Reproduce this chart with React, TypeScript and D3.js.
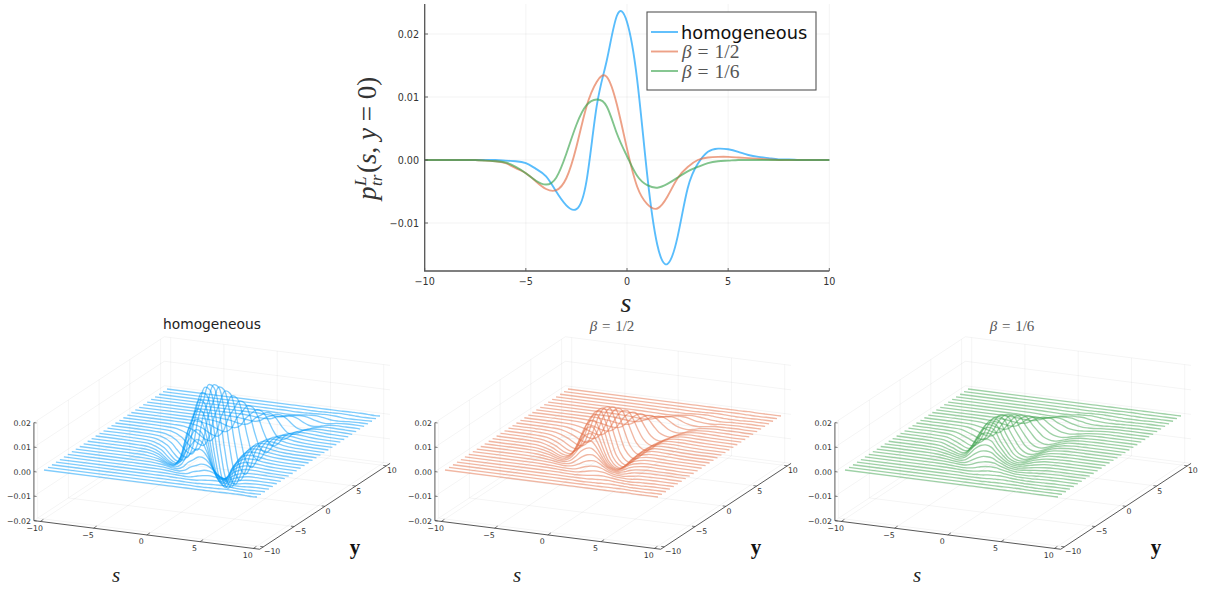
import React from "react";
import * as d3 from "d3";

const W = 1209, H = 590;
const SANS = "DejaVu Sans";
const SERIF = "Liberation Serif";
const BLUE = "#009AFA", ORANGE = "#E36F47", GREEN = "#3EA44E";

// top plot: s = -10 .. 10 step 0.5
const sTop = [-10,-9.5,-9,-8.5,-8,-7.5,-7,-6.5,-6,-5.5,-5,-4.5,-4,-3.5,-3,-2.5,-2,-1.5,-1,-0.5,0,0.5,1,1.5,2,2.5,3,3.5,4,4.5,5,5.5,6,6.5,7,7.5,8,8.5,9,9.5,10];
const lineHomogeneous = [0,0,0,0,0,0,0,0,-0.0001,-0.0002,-0.0005,-0.0014,-0.0026,-0.005,-0.0072,-0.0078,-0.0033,0.0085,0.0158,0.0229,0.0219,0.0128,-0.0024,-0.0135,-0.0165,-0.0122,-0.0045,-0.0006,0.0013,0.0018,0.0017,0.0013,0.0008,0.0005,0.0003,0.0001,0.0001,0,0,0,0];
const lineBetaHalf = [0,0,0,0,0,0,-0.0001,-0.0002,-0.0005,-0.0013,-0.0021,-0.0034,-0.0046,-0.0048,-0.0029,0.0021,0.0085,0.0124,0.0132,0.0088,0.0018,-0.0042,-0.007,-0.0077,-0.0058,-0.0029,-0.0011,0,0.0004,0.0005,0.0005,0.0004,0.0003,0.0002,0.0001,0,0,0,0,0,0];
const lineBetaSixth = [0,0,0,0,0,0,-0.0001,-0.0002,-0.0004,-0.0011,-0.0021,-0.0033,-0.0039,-0.0028,0.001,0.0056,0.0087,0.0096,0.0085,0.0042,0.0006,-0.0025,-0.004,-0.0044,-0.0038,-0.0028,-0.0018,-0.0011,-0.0005,-0.0002,-0.0001,0,0,0,0,0,0,0,0,0,0];

// surfaces: each row has one s offset, values in units of 0.0001, one row per |y|
const sGrid = [-10,-7,-6,-5,-4,-3.5,-3,-2.5,-2,-1.5,-1,-0.5,0,0.5,1,1.5,2,2.5,3,4,5,6,7,10];
const rowY = [0.32,0.97,1.61,2.26,2.9,3.55,4.19,4.84,5.48,6.13,6.77,7.42,8.06,8.71,9.35,10];
const rowShift = [0,0.08,0.2,0.4,0.67,1,1.4,1.87,2.4,3,3.67,4.4,5.2,6,7,8];
const surfaceHomogeneous = [
  [0,0,-1,-5,-26,-50,-72,-78,-33,84,159,230,221,127,-24,-134,-164,-121,-45,13,17,8,3,0],
  [0,0,-1,-5,-25,-47,-68,-74,-31,81,152,219,211,121,-23,-128,-157,-116,-43,12,16,8,3,0],
  [0,0,-1,-4,-23,-43,-62,-68,-29,74,139,200,192,111,-21,-117,-143,-106,-39,11,15,7,3,0],
  [0,0,-1,-4,-20,-38,-54,-59,-25,64,120,174,167,96,-18,-102,-124,-92,-34,10,13,6,2,0],
  [0,0,-1,-3,-16,-31,-45,-49,-21,53,100,145,139,80,-15,-85,-103,-76,-28,8,11,5,2,0],
  [0,0,0,-2,-13,-25,-36,-39,-16,42,80,115,110,64,-12,-67,-82,-61,-22,6,8,4,1,0],
  [0,0,0,-2,-10,-19,-27,-29,-12,32,60,87,84,48,-9,-51,-62,-46,-17,5,6,3,1,0],
  [0,0,0,-1,-7,-14,-20,-21,-9,23,44,63,60,35,-7,-37,-45,-33,-12,4,5,2,1,0],
  [0,0,0,-1,-5,-9,-14,-15,-6,16,30,44,42,24,-5,-26,-31,-23,-9,2,3,2,1,0],
  [0,0,0,-1,-3,-6,-9,-10,-4,11,20,29,28,16,-3,-17,-20,-15,-6,2,2,1,0,0],
  [0,0,0,0,-2,-4,-6,-6,-3,7,12,18,17,10,-2,-11,-13,-10,-4,1,1,1,0,0],
  [0,0,0,0,-1,-2,-3,-4,-2,4,8,11,10,6,-1,-6,-8,-6,-2,1,1,0,0,0],
  [0,0,0,0,-1,-1,-2,-2,-1,2,4,6,6,3,-1,-4,-4,-3,-1,0,0,0,0,0],
  [0,0,0,0,0,-1,-1,-1,0,1,2,3,3,2,0,-2,-2,-2,-1,0,0,0,0,0],
  [0,0,0,0,0,0,-1,-1,0,1,1,2,2,1,0,-1,-1,-1,0,0,0,0,0,0],
  [0,0,0,0,0,0,0,0,0,0,1,1,1,1,0,-1,-1,0,0,0,0,0,0,0],
];
const surfaceBetaHalf = [
  [0,-1,-5,-21,-46,-48,-29,21,84,123,131,87,18,-42,-70,-77,-58,-29,-11,4,5,3,1,0],
  [0,-1,-5,-20,-44,-46,-28,20,81,118,125,84,17,-40,-66,-73,-55,-28,-10,4,5,3,1,0],
  [0,-1,-4,-18,-40,-42,-25,18,74,107,114,76,16,-36,-61,-67,-50,-25,-10,3,4,3,1,0],
  [0,-1,-4,-16,-35,-36,-22,16,64,93,99,66,14,-32,-53,-58,-44,-22,-8,3,4,2,1,0],
  [0,-1,-3,-13,-29,-30,-18,13,53,78,83,55,11,-26,-44,-48,-36,-18,-7,3,3,2,1,0],
  [0,0,-2,-10,-23,-24,-14,10,42,62,66,44,9,-21,-35,-38,-29,-14,-5,2,2,1,0,0],
  [0,0,-2,-8,-17,-18,-11,8,32,47,50,33,7,-16,-26,-29,-22,-11,-4,2,2,1,0,0],
  [0,0,-1,-6,-13,-13,-8,6,23,34,36,24,5,-11,-19,-21,-16,-8,-3,1,1,1,0,0],
  [0,0,-1,-4,-9,-9,-5,4,16,23,25,17,3,-8,-13,-15,-11,-5,-2,1,1,1,0,0],
  [0,0,-1,-3,-6,-6,-4,3,11,15,16,11,2,-5,-9,-10,-7,-4,-1,0,1,0,0,0],
  [0,0,0,-2,-4,-4,-2,2,7,10,10,7,1,-3,-5,-6,-5,-2,-1,0,0,0,0,0],
  [0,0,0,-1,-2,-2,-1,1,4,6,6,4,1,-2,-3,-4,-3,-1,-1,0,0,0,0,0],
  [0,0,0,-1,-1,-1,-1,1,2,3,4,2,0,-1,-2,-2,-2,-1,0,0,0,0,0,0],
  [0,0,0,0,-1,-1,0,0,1,2,2,1,0,-1,-1,-1,-1,0,0,0,0,0,0,0],
  [0,0,0,0,0,0,0,0,1,1,1,1,0,0,-1,-1,0,0,0,0,0,0,0,0],
  [0,0,0,0,0,0,0,0,0,0,1,0,0,0,0,0,0,0,0,0,0,0,0,0],
];
const surfaceBetaSixth = [
  [0,-1,-4,-21,-39,-28,10,56,86,95,84,42,6,-25,-40,-44,-38,-28,-18,-5,-1,0,0,0],
  [0,-1,-4,-20,-37,-27,9,53,83,91,81,40,6,-24,-38,-42,-36,-27,-17,-5,-1,0,0,0],
  [0,-1,-3,-18,-34,-24,9,48,75,83,74,36,5,-22,-35,-38,-33,-24,-16,-4,-1,0,0,0],
  [0,-1,-3,-16,-29,-21,8,42,66,72,64,32,5,-19,-30,-33,-29,-21,-14,-4,-1,0,0,0],
  [0,-1,-3,-13,-24,-18,6,35,55,60,53,26,4,-16,-25,-28,-24,-18,-11,-3,-1,0,0,0],
  [0,0,-2,-10,-19,-14,5,28,43,48,42,21,3,-12,-20,-22,-19,-14,-9,-2,0,0,0,0],
  [0,0,-2,-8,-15,-11,4,21,33,36,32,16,2,-9,-15,-17,-14,-11,-7,-2,0,0,0,0],
  [0,0,-1,-6,-11,-8,3,15,24,26,23,11,2,-7,-11,-12,-10,-8,-5,-1,0,0,0,0],
  [0,0,-1,-4,-7,-5,2,11,16,18,16,8,1,-5,-8,-8,-7,-5,-3,-1,0,0,0,0],
  [0,0,0,-3,-5,-3,1,7,11,12,11,5,1,-3,-5,-5,-5,-3,-2,-1,0,0,0,0],
  [0,0,0,-2,-3,-2,1,4,7,7,7,3,0,-2,-3,-3,-3,-2,-1,0,0,0,0,0],
  [0,0,0,-1,-2,-1,0,3,4,5,4,2,0,-1,-2,-2,-2,-1,-1,0,0,0,0,0],
  [0,0,0,-1,-1,-1,0,2,2,3,2,1,0,-1,-1,-1,-1,-1,0,0,0,0,0,0],
  [0,0,0,0,-1,0,0,1,1,1,1,1,0,0,-1,-1,-1,0,0,0,0,0,0,0],
  [0,0,0,0,0,0,0,0,1,1,1,0,0,0,0,0,0,0,0,0,0,0,0,0],
  [0,0,0,0,0,0,0,0,0,0,0,0,0,0,0,0,0,0,0,0,0,0,0,0],
];

const zTicks = [-0.02,-0.01,0,0.01,0.02];
const sTicks = [-10,-5,0,5,10];
const LIM = 10.6;

const minus = (t: string) => t.replace("-", "\u2212");

function Panel({ dx, color, table, title, math }: any) {
  // oblique projection assembled from one D3 scale per data axis
  const xOfS = d3.scaleLinear().domain([-10, 10]).range([-106.5, 106.5]);
  const xOfY = d3.scaleLinear().domain([-10, 10]).range([-61.5, 61.5]);
  const yOfS = d3.scaleLinear().domain([-10, 10]).range([-13.5, 13.5]);
  const yOfY = d3.scaleLinear().domain([-10, 10]).range([40.5, -40.5]);
  const yOfZ = d3.scaleLinear().domain([-0.02, 0.02]).range([49, -49]);
  const px = (s: number, y: number) => dx + 212 + xOfS(s) + xOfY(y);
  const py = (s: number, y: number, z: number) => 443 + yOfS(s) + yOfY(y) + yOfZ(z);
  const seg = (a: number[], b: number[], k: any, stroke: string, sw: number) => (
    <line key={k} x1={px(a[0], a[1])} y1={py(a[0], a[1], a[2])} x2={px(b[0], b[1])} y2={py(b[0], b[1], b[2])} stroke={stroke} strokeWidth={sw} />
  );
  const G = "#000", GW = 0.5;
  const L = LIM, zb = -0.02, zt = 0.02;
  const line = d3.line<[number, number]>().x((d) => d[0]).y((d) => d[1]).curve(d3.curveCatmullRom.alpha(0.5));
  const rows: React.ReactNode[] = [];
  const ys: [number, number][] = [];
  rowY.forEach((y, k) => { ys.push([-y, k]); ys.push([y, k]); });
  ys.sort((a, b) => b[0] - a[0]).forEach(([y, k]) => {
    const pts: [number, number][] = [];
    sGrid.forEach((s0, i) => {
      const end = i === 0 || i === sGrid.length - 1;
      const s = end ? s0 : s0 + rowShift[k];
      if (!end && (s <= -9.8 || s >= 9.8)) return;
      pts.push([px(s, y), py(s, y, table[k][i] * 1e-4)]);
    });
    rows.push(<path key={y} d={line(pts) as string} fill="none" stroke={color} strokeWidth={1.35} strokeOpacity={0.5} />);
  });
  return (
    <g>
      <g strokeOpacity={0.09}>
        {sTicks.map((t) => seg([t, -L, zb], [t, L, zb], "fs" + t, G, GW))}
        {sTicks.map((t) => seg([-L, t, zb], [L, t, zb], "fy" + t, G, GW))}
        {sTicks.map((t) => seg([t, L, zb], [t, L, zt], "ws" + t, G, GW))}
        {sTicks.map((t) => seg([-L, t, zb], [-L, t, zt], "wy" + t, G, GW))}
        {zTicks.map((t) => seg([-L, -L, t], [-L, L, t], "wa" + t, G, GW))}
        {zTicks.map((t) => seg([-L, L, t], [L, L, t], "wb" + t, G, GW))}
      </g>
      {rows}
      <g>
        {seg([-L, -L, zb], [-L, -L, zt], "az", "#444", 0.9)}
        {seg([-L, -L, zb], [L, -L, zb], "as", "#444", 0.9)}
        {seg([L, -L, zb], [L, L, zb], "ay", "#444", 0.9)}
        {zTicks.map((t) => seg([-L, -L, t], [-L + 0.25, -L, t], "tz" + t, "#444", 0.7))}
        {sTicks.map((t) => seg([t, -L, zb], [t, -L + 0.5, zb], "ts" + t, "#444", 0.7))}
        {sTicks.map((t) => seg([L, t, zb], [L - 0.3, t, zb], "ty" + t, "#444", 0.7))}
      </g>
      <g fontFamily={SANS} fontSize={7.8} fill="#333">
        {zTicks.map((t) => (
          <text key={t} x={px(-L, -L) - 3} y={py(-L, -L, t) + 3} textAnchor="end">{minus(t.toFixed(2))}</text>
        ))}
        {sTicks.map((t) => (
          <text key={t} x={px(t, -L) - 5.5} y={py(t, -L, zb) + 9.5} textAnchor="middle">{minus(String(t))}</text>
        ))}
        {sTicks.map((t) => (
          <text key={t} x={px(L, t) + 0.5} y={py(L, t, zb) + 7.5} textAnchor="start">{minus(String(t))}</text>
        ))}
      </g>
      {title && <text x={dx + 212} y={329} textAnchor="middle" fontFamily={SANS} fontSize={13.8} fill="#222">{title}</text>}
      {math && (
        <text x={dx + 211} y={331} textAnchor="middle" fontFamily={SERIF} fontSize={15} wordSpacing={1} fill="#555">
          <tspan fontStyle="italic">β</tspan> = {math}
        </text>
      )}
      <text x={dx + 116} y={582} textAnchor="middle" fontFamily={SERIF} fontStyle="italic" fontSize={21} fill="#222">s</text>
      <text x={dx + 355} y={554} textAnchor="middle" fontFamily={SERIF} fontWeight="bold" fontSize={21} fill="#111">y</text>
    </g>
  );
}

export default function App() {
  const x = d3.scaleLinear().domain([-10, 10]).range([424.7, 829.3]);
  const y = d3.scaleLinear().domain([0, 0.02]).range([160, 34]);
  const yTicks = [-0.01, 0, 0.01, 0.02];
  const line = d3.line<number>().x((_, i) => x(sTop[i])).y((d) => y(d)).curve(d3.curveNatural);
  const top = [
    { v: lineHomogeneous, c: BLUE },
    { v: lineBetaHalf, c: ORANGE },
    { v: lineBetaSixth, c: GREEN },
  ];
  return (
    <svg width={W} height={H} style={{ position: "absolute", left: 0, top: 0 }}>
      <rect width={W} height={H} fill="#fff" />
      <g stroke="#000" strokeOpacity={0.07} strokeWidth={0.7}>
        {sTicks.map((t) => <line key={t} x1={x(t)} x2={x(t)} y1={4} y2={271} />)}
        {yTicks.map((t) => <line key={t} x1={424.7} x2={829.3} y1={y(t)} y2={y(t)} />)}
      </g>
      {top.map((d) => <path key={d.c} d={line(d.v) as string} fill="none" stroke={d.c} strokeWidth={1.9} strokeOpacity={0.65} />)}
      <path d="M424.7 4V271H829.3" fill="none" stroke="#555" strokeWidth={1.3} />
      <g stroke="#555" strokeWidth={0.9}>
        {sTicks.map((t) => <line key={t} x1={x(t)} x2={x(t)} y1={271} y2={268} />)}
        {yTicks.map((t) => <line key={t} x1={424.7} x2={428} y1={y(t)} y2={y(t)} />)}
      </g>
      <g fontFamily={SANS} fontSize={9.6} fill="#333">
        {sTicks.map((t) => <text key={t} x={x(t)} y={285} textAnchor="middle">{minus(String(t))}</text>)}
        {yTicks.map((t) => <text key={t} x={419} y={y(t) + 3.5} textAnchor="end">{minus(t.toFixed(2))}</text>)}
      </g>
      <g transform="translate(376,200) rotate(-90)" fontFamily={SERIF} fill="#333">
        <text x={0} y={0} fontSize={27} fontStyle="italic">p</text>
        <text x={14} y={-10} fontSize={17} fontStyle="italic">L</text>
        <text x={14} y={6} fontSize={17} fontStyle="italic">tr</text>
        <text x={27} y={0} fontSize={27}>(<tspan fontStyle="italic">s</tspan>, <tspan fontStyle="italic">y</tspan> = 0)</text>
      </g>
      <text x={626} y={312} textAnchor="middle" fontFamily={SERIF} fontStyle="italic" fontSize={28} fill="#222">s</text>
      <rect x={647} y={12} width={169} height={78} fill="#fff" stroke="#555" strokeWidth={1.1} />
      {top.map((d, i) => <line key={d.c} x1={651} x2={678} y1={32 + i * 19.5} y2={32 + i * 19.5} stroke={d.c} strokeWidth={1.9} strokeOpacity={0.65} />)}
      <text x={681} y={38.5} fontFamily={SANS} fontSize={17.8} fill="#111">homogeneous</text>
      <text x={682} y={58} fontFamily={SERIF} fontSize={19.5} wordSpacing={1} fill="#555"><tspan fontStyle="italic">β</tspan> = 1/2</text>
      <text x={682} y={78} fontFamily={SERIF} fontSize={19.5} wordSpacing={1} fill="#555"><tspan fontStyle="italic">β</tspan> = 1/6</text>
      <Panel dx={0} color={BLUE} table={surfaceHomogeneous} title="homogeneous" />
      <Panel dx={401} color={ORANGE} table={surfaceBetaHalf} math="1/2" />
      <Panel dx={801} color={GREEN} table={surfaceBetaSixth} math="1/6" />
    </svg>
  );
}
